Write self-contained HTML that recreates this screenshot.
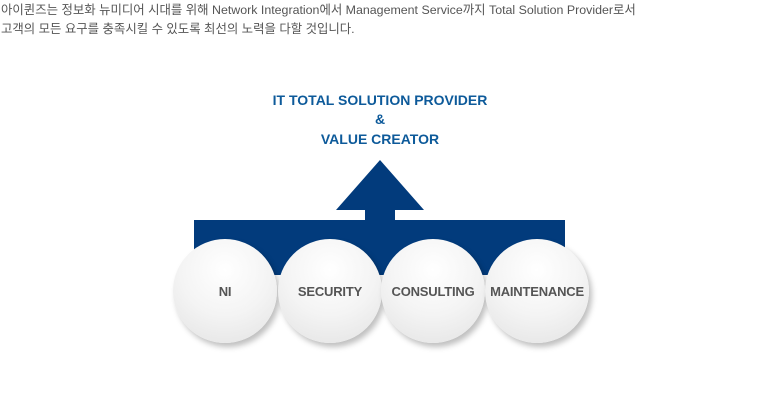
<!DOCTYPE html>
<html><head><meta charset="utf-8"><style>
body{margin:0;width:765px;height:411px;background:#fff;position:relative;overflow:hidden;font-family:"Liberation Sans","Noto Sans CJK KR",sans-serif}
.t{position:absolute;left:1px;font-size:12.4px;color:#555;white-space:nowrap}
.h{position:absolute;left:230px;width:300px;text-align:center;color:#0d5a9a;font-weight:bold;font-size:14px}
.c{position:absolute;width:104px;height:104px;border-radius:50%;background:radial-gradient(circle at 50% 30%,#fff 0%,#f4f4f4 50%,#e2e2e2 100%);box-shadow:3px 4px 6px rgba(0,0,0,.25);display:flex;align-items:center;justify-content:center;font-weight:bold;font-size:13px;color:#555;top:239px;letter-spacing:-0.2px}
</style></head><body>
<div class="t" style="top:0">아이퀸즈는 정보화 뉴미디어 시대를 위해 Network Integration에서 Management Service까지 Total Solution Provider로서</div>
<div class="t" style="top:19px">고객의 모든 요구를 충족시킬 수 있도록 최선의 노력을 다할 것입니다.</div>
<div class="h" style="top:92px">IT TOTAL SOLUTION PROVIDER</div>
<div class="h" style="top:111px">&amp;</div>
<div class="h" style="top:131px">VALUE CREATOR</div>
<svg style="position:absolute;left:0;top:0" width="765" height="411">
<polygon points="380,160 424,210 395,210 395,220 565,220 565,275 194,275 194,220 365,220 365,210 336,210" fill="#023b7c"/>
</svg>
<div class="c" style="left:173px">NI</div>
<div class="c" style="left:278px">SECURITY</div>
<div class="c" style="left:381px">CONSULTING</div>
<div class="c" style="left:485px">MAINTENANCE</div>
</body></html>
